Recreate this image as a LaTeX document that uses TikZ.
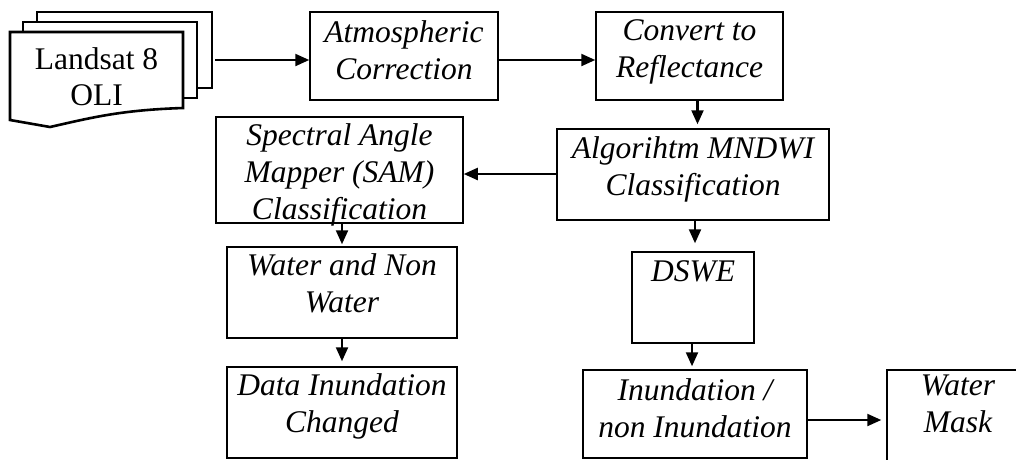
\documentclass[tikz,border=0pt]{standalone}
\usepackage{fontspec}
\setmainfont{Liberation Serif}
\usetikzlibrary{arrows.meta}
\tikzset{
  box/.style={draw, line width=1.5pt, rectangle, inner sep=0pt},
  txt/.style={inner sep=0pt, align=center, font=\fontsize{31.5}{37}\selectfont\itshape, anchor=north},
  uptxt/.style={inner sep=0pt, align=center, font=\fontsize{31.5}{36}\selectfont, anchor=north},
  doc/.style={line width=2.6pt, line join=miter},
  arr/.style={line width=2.2pt, -{Triangle[length=14pt,width=12pt]}},
}
\begin{document}
\begin{tikzpicture}[x=1pt,y=-1pt]
\useasboundingbox (0,0) rectangle (1016,459);
% Landsat stacked documents
\draw[doc] (37,22) -- (37,12) -- (212,12) -- (212,88) -- (197,88);
\draw[doc] (23,32) -- (23,22) -- (197,22) -- (197,98) -- (183,98);
\draw[doc] (10,32) -- (183,32) -- (183,108) .. controls (120,110) and (90,118) .. (50,127) -- (10,120) -- cycle;
\node[uptxt] (land) at ([yshift=-15pt]96.5,32) {Landsat 8\\OLI};
\coordinate (landR) at (215,60);
% boxes
\node[box, minimum width=188pt, minimum height=88pt] (atm) at (404,56) {};
\node[box, minimum width=187pt, minimum height=88pt] (conv) at (689.5,56) {};
\node[box, minimum width=272pt, minimum height=91pt] (alg) at (693,174.5) {};
\node[box, minimum width=247pt, minimum height=106pt] (sam) at (339.5,170) {};
\node[box, minimum width=230pt, minimum height=91pt] (water) at (342,292.5) {};
\node[box, minimum width=230pt, minimum height=91pt] (data) at (342,412.5) {};
\node[box, minimum width=122pt, minimum height=91pt] (dswe) at (693,297.5) {};
\node[box, minimum width=224pt, minimum height=88pt] (inun) at (695,414) {};
\node[box, minimum width=142pt, minimum height=96pt] (mask) at (958,418) {};
% texts
\node[txt] (atmT) at ([yshift=-9pt]atm.north) {Atmospheric\\Correction};
\node[txt] (convT) at ([yshift=-8pt]conv.north) {Convert to\\Reflectance};
\node[txt] (algT) at ([yshift=-8pt]alg.north) {Algorihtm MNDWI\\Classification};
\node[txt] (samT) at ([yshift=-7pt]sam.north) {Spectral Angle\\Mapper (SAM)\\Classification};
\node[txt] (waterT) at ([yshift=-7pt]water.north) {Water and Non\\Water};
\node[txt] (dataT) at ([yshift=-7pt]data.north) {Data Inundation\\Changed};
\node[txt] (dsweT) at ([yshift=-9pt]dswe.north) {DSWE};
\node[txt] (inunT) at ([yshift=-9pt]inun.north) {Inundation /\\non Inundation};
\node[txt] (maskT) at ([yshift=-5pt]mask.north) {Water\\Mask};
% arrows
\draw[arr] (landR) -- (landR -| atm.west);
\draw[arr] (atm.east |- landR) -- (conv.west |- landR);
\draw[arr, shorten >=4pt] ([xshift=8pt]conv.south) -- ([xshift=8pt]conv.south |- alg.north);
\draw[arr] ([yshift=0.5pt]alg.west) -- ([yshift=0.5pt]alg.west -| sam.east);
\draw[arr, shorten >=8pt] ([xshift=2pt]alg.south) -- ([xshift=2pt]alg.south |- dswe.north);
\draw[arr, shorten >=3pt] ([xshift=-1pt]dswe.south) -- ([xshift=-1pt]dswe.south |- inun.north);
\draw[arr, shorten >=5pt] ([yshift=-6pt]inun.east) -- ([yshift=-6pt]inun.east -| mask.west);
\draw[arr, shorten >=2pt] ([xshift=2.5pt]sam.south) -- ([xshift=2.5pt]sam.south |- water.north);
\draw[arr, shorten >=5pt] (water.south) -- (data.north);
\end{tikzpicture}
\end{document}
